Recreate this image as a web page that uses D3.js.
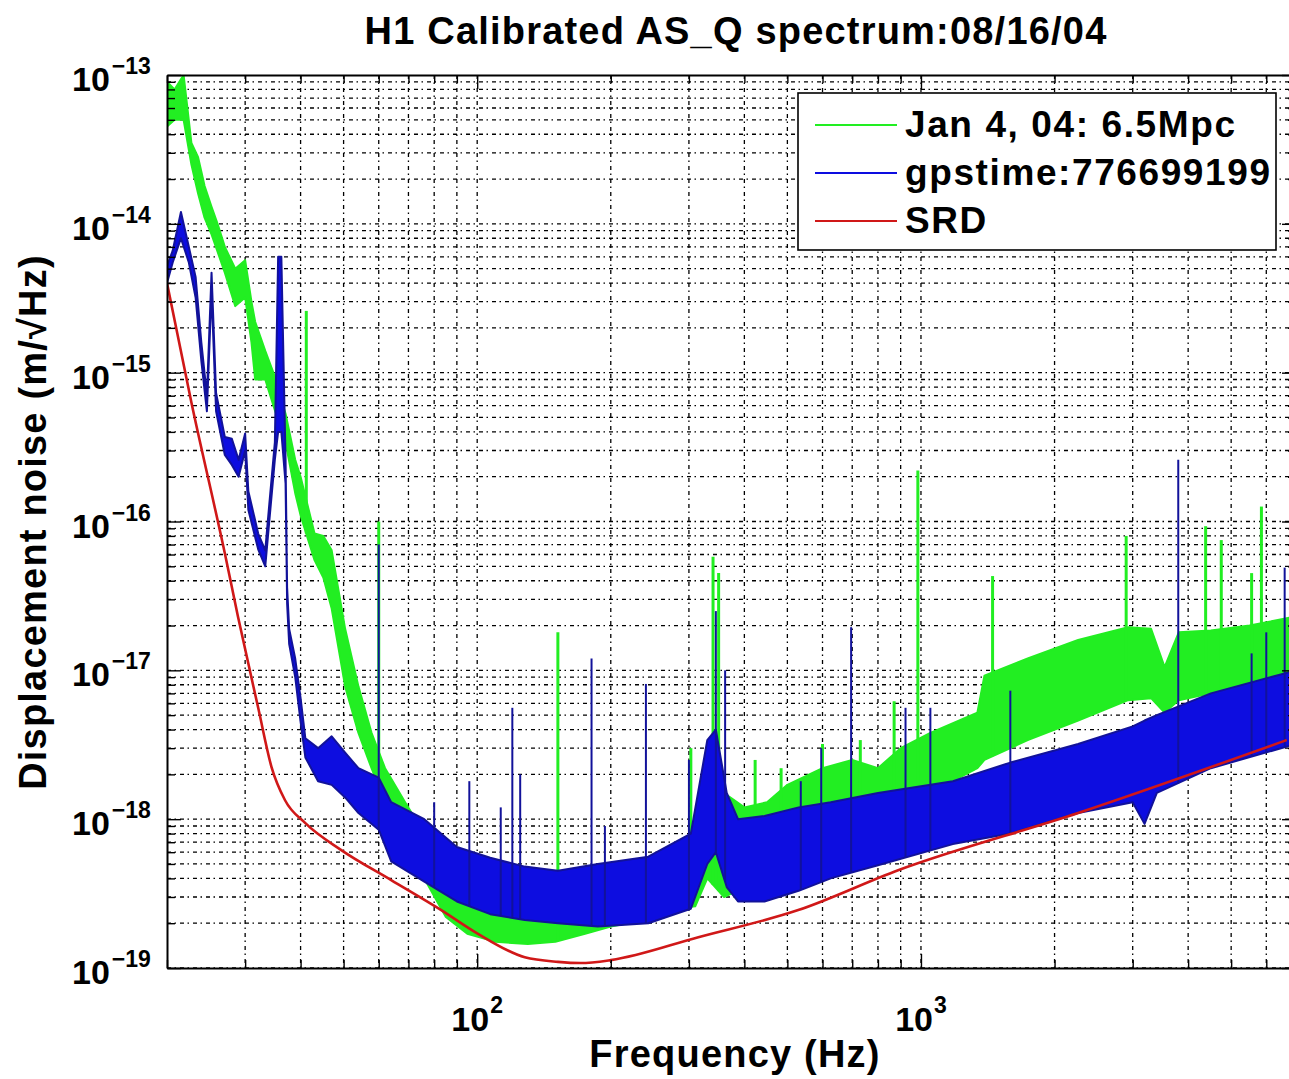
<!DOCTYPE html>
<html>
<head>
<meta charset="utf-8">
<script src="https://cdn.jsdelivr.net/npm/d3@7"></script>
<style>
body{margin:0;background:#fff}
text{font-family:"Liberation Sans",Arial,Helvetica,sans-serif;font-weight:bold;fill:#000}
</style>
</head>
<body>
<svg id="chart" width="1289" height="1079"></svg>
<script>
// Jan 4, 04 trace: frequency knots (Hz) with the upper / lower edge of the noisy band (m/rtHz)
const janFreq = [20, 20.8, 21.8, 22.7, 23.5, 24.3, 25.2, 26, 27, 28.5, 30, 31, 31.6, 33.3, 35, 37, 38.9, 40, 43, 45, 47, 50.4, 54, 57.8, 62, 68.8, 76, 85, 95, 110, 130, 150, 175, 200, 240, 280, 310, 330, 360, 400, 450, 500, 600, 700, 800, 900, 1050, 1340, 1390, 1740, 2260, 2930, 3300, 3540, 3810, 4500, 5500, 7000]
const janHi = [9e-14, 8e-14, 1e-13, 3.5e-14, 2.8e-14, 1.8e-14, 1.3e-14, 1.0e-14, 7e-15, 5e-15, 5.7e-15, 3e-15, 2.2e-15, 1.4e-15, 9.4e-16, 5.3e-16, 2.6e-16, 2e-16, 8.3e-17, 8e-17, 6.4e-17, 1.9e-17, 7.8e-18, 3.8e-18, 2.2e-18, 1.3e-18, 8e-19, 5e-19, 4e-19, 3.5e-19, 3.3e-19, 3.3e-19, 3.5e-19, 4e-19, 5e-19, 6.5e-19, 8e-19, 2e-18, 1.5e-18, 1.2e-18, 1.3e-18, 1.7e-18, 2.2e-18, 2.5e-18, 2.2e-18, 3e-18, 3.8e-18, 5.2e-18, 9.2e-18, 1.2e-17, 1.6e-17, 1.95e-17, 1.9e-17, 1.05e-17, 1.8e-17, 1.85e-17, 2e-17, 2.3e-17]
const janLo = [4.5e-14, 5e-14, 5e-14, 2.5e-14, 1.6e-14, 1.1e-14, 8.5e-15, 6.5e-15, 4.7e-15, 2.8e-15, 3.2e-15, 1.6e-15, 9e-16, 9e-16, 5.6e-16, 3.4e-16, 1.55e-16, 1.1e-16, 5.5e-17, 4.2e-17, 2.6e-17, 7.8e-18, 3.8e-18, 2.2e-18, 1.3e-18, 7e-19, 4e-19, 2.2e-19, 1.7e-19, 1.5e-19, 1.45e-19, 1.5e-19, 1.7e-19, 1.9e-19, 2.1e-19, 2.5e-19, 2.6e-19, 4e-19, 3e-19, 3.5e-19, 4e-19, 5e-19, 7e-19, 9e-19, 1.2e-18, 1.4e-18, 1.5e-18, 2.2e-18, 2.5e-18, 3.4e-18, 4.6e-18, 6.3e-18, 6.5e-18, 5.2e-18, 6.3e-18, 7e-18, 8e-18, 1e-17]
// lines sticking out of the band: [frequency, top]
const janLines = [[41.2, 2.6e-15], [60, 1.0e-16], [152, 1.8e-17], [303, 3e-18], [340, 5.8e-17], [350, 4.5e-17], [423, 2.5e-18], [484, 2.2e-18], [600, 3.2e-18], [730, 3.4e-18], [870, 6.2e-18], [984, 2.2e-16], [1450, 4.3e-17], [2900, 8e-17], [4380, 9.3e-17], [4750, 7.5e-17], [5560, 4.5e-17], [5850, 1.26e-16]]

// gpstime:776699199 trace
const gpsFreq = [20, 20.6, 21.5, 22.4, 23.2, 23.9, 24.6, 25.2, 25.8, 27, 28, 29, 30, 30.5, 32.1, 33.3, 34, 35, 35.6, 36.2, 37, 37.3, 37.7, 38.9, 40, 41, 43.8, 47, 50.4, 54, 60, 64, 76, 90, 107, 128, 152, 187, 243, 303, 330, 345, 365, 387, 444, 530, 626, 800, 1180, 1590, 2260, 3000, 3190, 3400, 4500, 7000]
const gpsHi = [5.2e-15, 6.6e-15, 1.2e-14, 7e-15, 4.4e-15, 1.6e-15, 7e-16, 4.7e-15, 7.3e-16, 3.7e-16, 3.6e-16, 2.6e-16, 3.9e-16, 1.6e-16, 8.3e-17, 6.4e-17, 1.3e-16, 3.4e-16, 6e-15, 6e-15, 2.6e-16, 3.6e-17, 1.9e-17, 1.2e-17, 6.5e-18, 3.5e-18, 3e-18, 3.6e-18, 2.8e-18, 2.2e-18, 1.9e-18, 1.3e-18, 1e-18, 6.5e-19, 5.5e-19, 4.8e-19, 4.5e-19, 5e-19, 5.6e-19, 8e-19, 3.4e-18, 4e-18, 1.5e-18, 1e-18, 1.05e-18, 1.2e-18, 1.3e-18, 1.5e-18, 1.8e-18, 2.4e-18, 3.2e-18, 4.2e-18, 4.6e-18, 5e-18, 7e-18, 1e-17]
const gpsLo = [4e-15, 5.5e-15, 8e-15, 5.5e-15, 3.2e-15, 1.2e-15, 5.5e-16, 3.5e-15, 5.5e-16, 2.8e-16, 2.4e-16, 2e-16, 3e-16, 1.2e-16, 6.5e-17, 5e-17, 1e-16, 2.6e-16, 4e-16, 4e-16, 1.8e-16, 2.8e-17, 1.5e-17, 9e-18, 4.5e-18, 2.6e-18, 1.8e-18, 1.7e-18, 1.4e-18, 1.1e-18, 8.5e-19, 5.2e-19, 3.8e-19, 2.8e-19, 2.3e-19, 2.1e-19, 2e-19, 1.9e-19, 2e-19, 2.5e-19, 5e-19, 6e-19, 3.5e-19, 2.8e-19, 2.8e-19, 3.3e-19, 4e-19, 4.9e-19, 6.8e-19, 8e-19, 1.1e-18, 1.3e-18, 9.3e-19, 1.5e-18, 2.2e-18, 3.2e-18]
const gpsLines = [[60, 7e-17], [80, 1.3e-18], [96, 1.8e-18], [113, 1.2e-18], [120, 5.6e-18], [125, 2e-18], [181, 1.2e-17], [194, 9e-19], [240, 8.1e-18], [300, 2.5e-18], [345, 2.5e-17], [362, 1e-17], [536, 1.8e-18], [596, 3e-18], [696, 1.95e-17], [923, 5.6e-18], [1050, 5.6e-18], [1590, 7.3e-18], [3800, 2.6e-16], [5560, 1.3e-17], [6000, 1.8e-17], [6600, 4.9e-17]]

// SRD design curve
const srdFreq = [20, 22.7, 27.1, 28.9, 32.1, 34.4, 36.9, 41, 49.4, 64, 83, 100, 128, 152, 171, 200, 315, 529, 888, 2260, 6670]
const srdVal = [4.0e-15, 6.3e-16, 5.8e-17, 2.3e-17, 5.6e-18, 2.24e-18, 1.34e-18, 9.4e-19, 6.2e-19, 3.9e-19, 2.45e-19, 1.71e-19, 1.18e-19, 1.10e-19, 1.08e-19, 1.13e-19, 1.61e-19, 2.45e-19, 4.54e-19, 1.1e-18, 3.4e-18]

const legendLabels = ["Jan 4, 04: 6.5Mpc", "gpstime:776699199", "SRD"]
const colors = ["#22ee22", "#0d0de0", "#d01818"]
const xMajor = [100, 1000]
const yMajor = [1e-19, 1e-18, 1e-17, 1e-16, 1e-15, 1e-14, 1e-13]

const svg = d3.select('#chart')
const pLeft = 167, pRight = 1296, pTop = 75, pBottom = 968
const x = d3.scaleLog().domain([20, 7000]).range([pLeft, pRight])
const y = d3.scaleLog().domain([1e-19, 1e-13]).range([pBottom, pTop])

svg.append('clipPath').attr('id', 'plot').append('rect')
   .attr('x', pLeft).attr('y', pTop).attr('width', pRight - pLeft).attr('height', pBottom - pTop)

// dotted matlab grid, minor and major alike
const grid = svg.append('g').attr('stroke', '#000').attr('stroke-width', 1.3)
   .attr('stroke-dasharray', '4,3.5,1.5,4').attr('clip-path', 'url(#plot)')
grid.selectAll('.gx').data(x.ticks()).join('line')
   .attr('x1', d => x(d)).attr('x2', d => x(d)).attr('y1', pTop).attr('y2', pBottom)
grid.selectAll('.gy').data(y.ticks()).join('line')
   .attr('y1', d => y(d)).attr('y2', d => y(d)).attr('x1', pLeft).attr('x2', pRight)

// traces
function logInterp(fs, vs, f) {
  const i = Math.min(fs.length - 1, Math.max(1, d3.bisectLeft(fs, f)))
  const t = (Math.log(f) - Math.log(fs[i-1])) / (Math.log(fs[i]) - Math.log(fs[i-1]))
  return Math.exp(Math.log(vs[i-1]) + t * (Math.log(vs[i]) - Math.log(vs[i-1])))
}
function drawTrace(freq, lo, hi, lines, fill, stroke, lineWidth) {
  const g = svg.append('g').attr('clip-path', 'url(#plot)')
  const rows = freq.map((f, i) => ({f: f, lo: lo[i], hi: hi[i]}))
  const area = d3.area().x(d => x(d.f)).y0(d => y(d.lo)).y1(d => y(d.hi))
  g.append('path').datum(rows).attr('d', area)
   .attr('fill', fill).attr('stroke', stroke).attr('stroke-width', 2).attr('stroke-linejoin', 'round')
  g.selectAll('.spike').data(lines).join('line')
   .attr('x1', d => x(d[0])).attr('x2', d => x(d[0]))
   .attr('y1', d => y(logInterp(freq, lo, d[0]))).attr('y2', d => y(d[1]))
   .attr('stroke', stroke).attr('stroke-width', lineWidth)
}
drawTrace(janFreq, janLo, janHi, janLines, colors[0], colors[0], 3)
drawTrace(gpsFreq, gpsLo, gpsHi, gpsLines, colors[1], '#12129a', 2)

const srdLine = d3.line().x((d, i) => x(srdFreq[i])).y(d => y(d)).curve(d3.curveMonotoneX)
svg.append('path').datum(srdVal).attr('d', srdLine).attr('clip-path', 'url(#plot)')
   .attr('fill', 'none').attr('stroke', colors[2]).attr('stroke-width', 2.6)

// axes, ticks pointing inwards, decades get longer ticks
const isMajor = d => Math.abs(Math.log10(d) - Math.round(Math.log10(d))) < 1e-6
function axis(gen, tx, ty, scale) {
  const g = svg.append('g').attr('transform', `translate(${tx},${ty})`)
  g.call(gen(scale).tickValues(scale.ticks()).tickSize(-8).tickSizeOuter(0).tickFormat(''))
  g.selectAll('.tick line').attr('stroke-width', 1.4).each(function(d) {
    if (!isMajor(d)) return
    for (const a of ['x2', 'y2']) {
      const v = +this.getAttribute(a)
      if (v) this.setAttribute(a, v * 1.75)
    }
  })
  g.select('.domain').attr('stroke-width', 2)
}
axis(d3.axisBottom, 0, pBottom, x)
axis(d3.axisTop, 0, pTop, x)
axis(d3.axisLeft, pLeft, 0, y)
axis(d3.axisRight, pRight, 0, y)

// tick labels as 10^n
svg.selectAll('.ylab').data(yMajor).join('text')
   .attr('x', 72).attr('y', d => y(d) + 16).attr('font-size', 34)
   .each(function(d) {
     const t = d3.select(this)
     t.append('tspan').text('10')
     t.append('tspan').attr('dx', 2).attr('dy', -17).attr('font-size', 23).text('\u2212' + (-Math.round(Math.log10(d))))
   })
svg.selectAll('.xlab').data(xMajor).join('text')
   .attr('x', d => x(d)).attr('y', 1031).attr('font-size', 34).attr('text-anchor', 'middle')
   .each(function(d) {
     const t = d3.select(this)
     t.append('tspan').text('10')
     t.append('tspan').attr('dx', 1).attr('dy', -18).attr('font-size', 23).text(Math.round(Math.log10(d)))
   })

// titles
svg.append('text').attr('x', 736).attr('y', 44).attr('text-anchor', 'middle')
   .attr('font-size', 38).attr('letter-spacing', 1.2).text('H1 Calibrated AS_Q spectrum:08/16/04')
svg.append('text').attr('x', 735).attr('y', 1067).attr('text-anchor', 'middle')
   .attr('font-size', 38).attr('letter-spacing', 1.2).text('Frequency (Hz)')
svg.append('text').attr('transform', 'translate(46,522) rotate(-90)').attr('text-anchor', 'middle')
   .attr('font-size', 38).attr('letter-spacing', 1.2).text('Displacement noise (m/\u221AHz)')

// legend
const legend = svg.append('g')
legend.append('rect').attr('x', 798).attr('y', 93).attr('width', 478).attr('height', 157)
   .attr('fill', '#fff').attr('stroke', '#000').attr('stroke-width', 1.6)
legendLabels.forEach((label, i) => {
  const ly = 125 + i * 48
  legend.append('line').attr('x1', 815).attr('x2', 897).attr('y1', ly).attr('y2', ly)
     .attr('stroke', colors[i]).attr('stroke-width', 2)
  legend.append('text').attr('x', 905).attr('y', ly + 12).attr('font-size', 37)
     .attr('letter-spacing', 1.6).text(label)
})
</script>
</body>
</html>
